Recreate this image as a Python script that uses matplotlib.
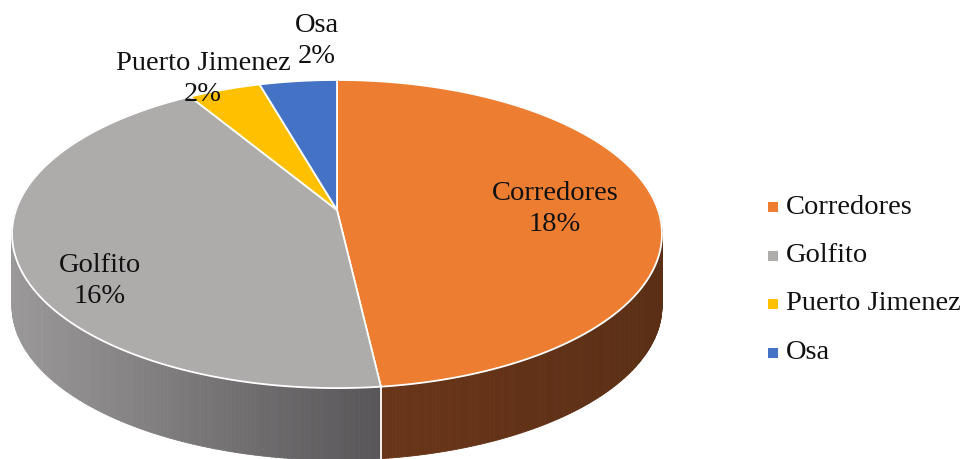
import numpy as np
import matplotlib.pyplot as plt
from matplotlib.patches import Polygon, Rectangle
from matplotlib.collections import PolyCollection
from matplotlib.colors import to_rgb

# data
regions = ['Corredores', 'Golfito', 'Puerto Jimenez', 'Osa']
values = [18.3, 16.4, 1.6, 1.7]
pct_labels = ['18%', '16%', '2%', '2%']

top_colors = ['#ED7D31', '#AEABAB', '#FFC000', '#4472C4']
side_colors = [('#6a3519', '#5a2f15'), ('#9a9898', '#585658'),
               ('#cc9a00', '#997300'), ('#36599a', '#2a4575')]
label_pos = [(555, 209), (100, 281), (203, 79), (317, 41)]

# pie geometry (pixels), simple perspective
cx, cy0 = 337, 210
k, s, t, depth = 0.156, 321, 150.3, 72

def proj(theta, z=0.0):
    th = np.radians(theta)
    a, b = np.sin(th), np.cos(th)
    w = 1 + k * b
    return cx + s * a / w, cy0 - t * b / w + z * depth

plt.rcParams['font.family'] = ['Liberation Serif', 'DejaVu Serif']
fig = plt.figure(figsize=(9.69, 4.59), dpi=100)
ax = fig.add_axes([0, 0, 1, 1])
ax.set_xlim(0, 969)
ax.set_ylim(459, 0)
ax.axis('off')

frac = np.array(values) / sum(values) * 360
ends = np.cumsum(frac)
starts = ends - frac

# side walls
for i in range(len(values)):
    lo, hi = max(starts[i], 60), min(ends[i], 300)
    if hi <= lo:
        continue
    th = np.linspace(lo, hi, 200)
    xs, ytop = proj(th, 0)
    _, ybot = proj(th, 1)
    c0, c1 = np.array(to_rgb(side_colors[i][0])), np.array(to_rgb(side_colors[i][1]))
    xmin, xmax = xs.min(), xs.max()
    quads, cols = [], []
    for j in range(len(th) - 1):
        quads.append([(xs[j], ytop[j]), (xs[j + 1], ytop[j + 1]),
                      (xs[j + 1], ybot[j + 1]), (xs[j], ybot[j])])
        f = ((xs[j] + xs[j + 1]) / 2 - xmin) / (xmax - xmin + 1e-9)
        cols.append(c0 + (c1 - c0) * f)
    ax.add_collection(PolyCollection(quads, facecolors=cols, edgecolors=cols,
                                     linewidths=0.6))

# white seam on the side between slices
for e in ends[:-1]:
    if 90 < e < 270:
        x0, y0 = proj(e, 0)
        x1, y1 = proj(e, 1)
        ax.plot([x0, x1], [y0, y1], color='white', lw=1.3)

# top faces
for i in range(len(values)):
    th = np.linspace(starts[i], ends[i], 200)
    xs, ys = proj(th, 0)
    pts = [(cx, cy0)] + list(zip(xs, ys))
    ax.add_patch(Polygon(pts, closed=True, facecolor=top_colors[i],
                         edgecolor='white', lw=1.3))

# data labels
for i in range(len(values)):
    x, y = label_pos[i]
    ax.text(x, y, f'{regions[i]}\n{pct_labels[i]}', ha='center', va='center',
            fontsize=20.5, linespacing=1.3, color='#111111')

# legend
for i, name in enumerate(regions):
    y = 207 + i * 48.5
    ax.add_patch(Rectangle((768, y - 5), 10, 10, facecolor=top_colors[i],
                           edgecolor='none'))
    ax.text(786, y, name, ha='left', va='center', fontsize=20.5, color='#111111')

fig.savefig('out.png', dpi=100)
